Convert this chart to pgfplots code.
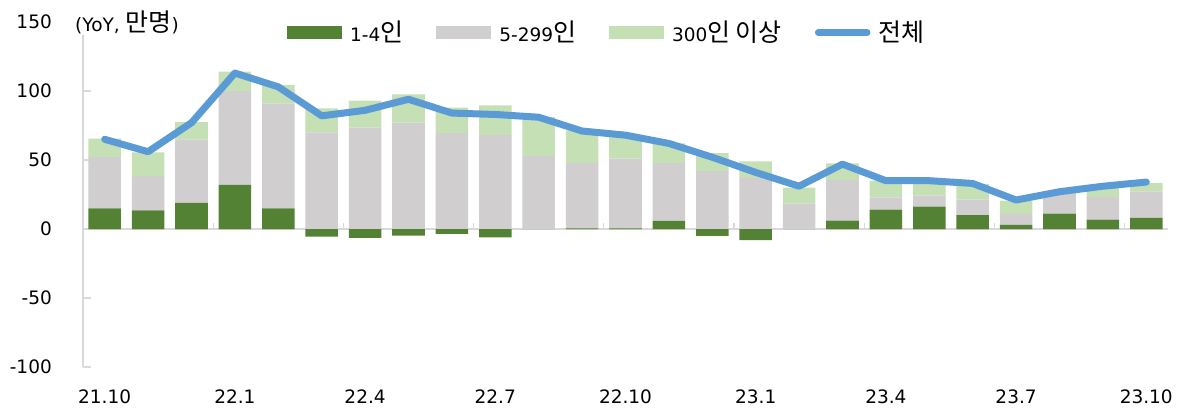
\documentclass[border=0pt]{standalone}
\usepackage{fontspec}
\setmainfont{DejaVu Sans}
\newfontfamily\kr[Scale=1.35]{Noto Sans CJK KR}
\usepackage{pgfplots}
\usepackage{pgfplotstable}
\pgfplotsset{compat=1.18}

\definecolor{gsmall}{HTML}{548235}
\definecolor{gmid}{HTML}{D0CECE}
\definecolor{gbig}{HTML}{C5E0B4}
\definecolor{totline}{HTML}{5B9BD5}
\definecolor{axgray}{HTML}{D9D9D9}

% YoY change, 10k persons; green split into positive / negative part
\pgfplotstableread{
x  gpos  gneg  mid   big   total
0  15    0     37    13.5  65
1  13.5  0     25    17    56
2  19    0     46    12.5  77
3  32    0     68    14    113
4  15    0     76    13.5  103
5  0     -5.5  70    17.5  82
6  0     -6.5  73.5  19.5  86
7  0     -4.8  77    20.5  94
8  0     -3.5  69.5  18.5  84
9  0     -6    68    21.5  83
10 0     0     53    28    81
11 0.5   0     47.5  23.5  71
12 0.5   0     50.5  16.5  68
13 5.8   0     42    14.2  62
14 0     -5    42    13    52
15 0     -8    37    12    41
16 0     0     18.5  11.5  31
17 6     0     29.5  12    47
18 14    0     9     12    35
19 16.2  0     8     11    35
20 10    0     11.2  11.5  33
21 3     0     8     9.5   21
22 11.1  0     14.3  2.3   27
23 6.8   0     16.5  8     31
24 8     0     19.2  6.3   34
}\datatable

\pgfplotsset{
  frame/.style={scale only axis, width=1085pt, height=345pt,
    xmin=-0.5, xmax=24.5, ymin=-100, ymax=150,
    at={(0pt,0pt)}, anchor=south west},
  barkey/.style={legend image code/.code={
    \fill[##1] (0pt,-6pt) rectangle (55pt,7pt);}},
  linekey/.style={legend image code/.code={
    \draw[##1] (3pt,0.5pt) -- (52pt,0.5pt);}},
}

\begin{document}
\fontsize{18.5}{22}\selectfont%
\begin{tikzpicture}
\begin{axis}[frame,
  ybar stacked, bar width=0.75,
  axis y line*=left, axis x line*=bottom,
  x axis line style={draw=none},
  y axis line style={draw=axgray, line width=1.5pt, -},
  ytick={-100,-50,0,50,100,150},
  yticklabels={-100,-50,0,50,100,150},
  ytick style={draw=axgray, line width=1.2pt},
  major tick length=8pt, tick align=inside,
  yticklabel style={anchor=east, inner sep=0pt, xshift=-31pt},
  xtick={0,3,...,24},
  xticklabels={21.10,22.1,22.4,22.7,22.10,23.1,23.4,23.7,23.10},
  xtick style={draw=none},
  xticklabel style={anchor=base, inner sep=0pt, yshift=-36pt},
  extra y ticks={0}, extra y tick labels={},
  extra y tick style={ymajorgrids=true,
    major grid style={draw=axgray, line width=1.5pt}},
  legend columns=4,
  legend style={at={(axis description cs:0.188,0.968)}, anchor=west,
    draw=none, fill=none, inner sep=0pt,
    nodes={inner sep=0pt},
    /tikz/every odd column/.append style={column sep=8pt},
    /tikz/every even column/.append style={column sep=33pt}},
]
\addplot[fill=gsmall, draw=none, barkey] table[x=x, y=gpos]{\datatable};
\addlegendentry{1-4{\kr 인}}
\addplot[fill=gmid, draw=none, barkey] table[x=x, y=mid]{\datatable};
\addlegendentry{5-299{\kr 인}}
\addplot[fill=gbig, draw=none, barkey] table[x=x, y=big]{\datatable};
\addlegendentry{300{\kr 인 이상}}
\addlegendimage{totline, line width=6.5pt, line cap=round, linekey}
\addlegendentry{{\kr 전체}}
\end{axis}

\begin{axis}[frame, hide axis]
\addplot[ybar, bar width=0.75, fill=gsmall, draw=none]
  table[x=x, y=gneg]{\datatable};
\pgfplotsinvokeforeach{2.5,5.5,8.5,11.5,14.5,17.5,20.5,23.5}{
  \draw[axgray, line width=1.2pt] (axis cs:#1,0) -- ++(0pt,6pt);}
\addplot[totline, line width=7pt, line join=round, line cap=round, mark=none]
  table[x=x, y=total]{\datatable};
\end{axis}

\node[anchor=west, fill=white, inner sep=1pt] at (-9pt,345pt) {(YoY, {\kr 만명})};

\pgfresetboundingbox
\path[use as bounding box] (-83pt,-41pt) rectangle (1096pt,367pt);
\end{tikzpicture}
\end{document}
